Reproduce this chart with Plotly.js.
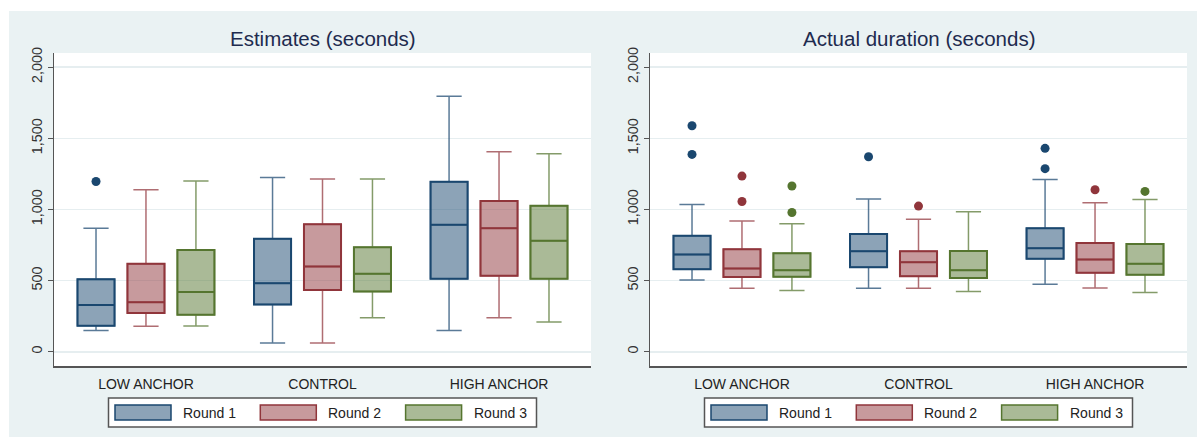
<!DOCTYPE html>
<html><head><meta charset="utf-8">
<script src="https://cdn.plot.ly/plotly-3.0.1.min.js"></script>
<style>html,body{margin:0;padding:0;background:#fff;} #chart{width:1197px;height:437px;}</style>
</head><body><div id="chart"></div>
<script>
// ---------- data ----------
const categories = ['LOW ANCHOR', 'CONTROL', 'HIGH ANCHOR'];
const rounds = ['Round 1', 'Round 2', 'Round 3'];
const panelTitles = ['Estimates (seconds)', 'Actual duration (seconds)'];
const yTickVals = [0, 500, 1000, 1500, 2000];

// Estimates (seconds): one value per category
const estR1Lo = [150, 61, 150], estR1Q1 = [183, 333, 514], estR1Med = [329, 481, 892], estR1Q3 = [510, 795, 1195], estR1Hi = [869, 1225, 1796];
const estR2Lo = [179, 61, 240], estR2Q1 = [272, 435, 535], estR2Med = [348, 599, 869], estR2Q3 = [618, 897, 1059], estR2Hi = [1139, 1214, 1406];
const estR3Lo = [181, 240, 209], estR3Q1 = [261, 423, 514], estR3Med = [420, 549, 780], estR3Q3 = [716, 735, 1026], estR3Hi = [1200, 1214, 1392];
const estR1OutCat = [0], estR1OutVal = [1197];
const estR2OutCat = [], estR2OutVal = [];
const estR3OutCat = [], estR3OutVal = [];

// Actual duration (seconds)
const actR1Lo = [505, 446, 474], actR1Q1 = [580, 594, 653], actR1Med = [683, 707, 728], actR1Q3 = [815, 827, 869], actR1Hi = [1035, 1073, 1211];
const actR2Lo = [446, 446, 449], actR2Q1 = [526, 531, 556], actR2Med = [585, 629, 648], actR2Q3 = [721, 707, 765], actR2Hi = [920, 932, 1047];
const actR3Lo = [430, 423, 416], actR3Q1 = [528, 519, 542], actR3Med = [573, 573, 618], actR3Q3 = [693, 709, 758], actR3Hi = [899, 984, 1071];
const actR1OutCat = [0, 0, 1, 2, 2], actR1OutVal = [1589, 1387, 1371, 1430, 1287];
const actR2OutCat = [0, 0, 1, 2], actR2OutVal = [1235, 1056, 1024, 1139];
const actR3OutCat = [0, 0, 2], actR3OutVal = [1165, 979, 1127];

// ---------- styling ----------
const W = 1197, H = 437;
const FONT = 'Liberation Sans, Arial, sans-serif';
const lineColors = ['#1a476f', '#90353b', '#55752f'];
const fillColors = ['rgba(26,71,111,0.5)', 'rgba(144,53,59,0.5)', 'rgba(85,117,47,0.5)'];
const whiskColors = ['rgba(26,71,111,0.72)', 'rgba(144,53,59,0.72)', 'rgba(85,117,47,0.72)'];
const roundOffset = [-0.283, 0, 0.283];
const boxW = 0.21;

const panels = [
  { xa: 'x', ya: 'y', left: 54, right: 591,
    stats: [[estR1Lo, estR1Q1, estR1Med, estR1Q3, estR1Hi], [estR2Lo, estR2Q1, estR2Med, estR2Q3, estR2Hi], [estR3Lo, estR3Q1, estR3Med, estR3Q3, estR3Hi]],
    outs: [[estR1OutCat, estR1OutVal], [estR2OutCat, estR2OutVal], [estR3OutCat, estR3OutVal]] },
  { xa: 'x2', ya: 'y2', left: 650, right: 1187,
    stats: [[actR1Lo, actR1Q1, actR1Med, actR1Q3, actR1Hi], [actR2Lo, actR2Q1, actR2Med, actR2Q3, actR2Hi], [actR3Lo, actR3Q1, actR3Med, actR3Q3, actR3Hi]],
    outs: [[actR1OutCat, actR1OutVal], [actR2OutCat, actR2OutVal], [actR3OutCat, actR3OutVal]] }
];

const traces = [];
panels.forEach(p => {
  p.stats.forEach((s, r) => {
    const xs = categories.map((c, i) => i + roundOffset[r]);
    // whiskers (lighter)
    traces.push({ type: 'box', xaxis: p.xa, yaxis: p.ya, name: rounds[r], x: xs,
      lowerfence: s[0], q1: s[1], median: s[2], q3: s[3], upperfence: s[4],
      width: boxW, whiskerwidth: 0.68, fillcolor: 'rgba(0,0,0,0)',
      line: { color: whiskColors[r], width: 1.5 }, hoverinfo: 'skip', showlegend: false });
    // box body
    traces.push({ type: 'box', xaxis: p.xa, yaxis: p.ya, name: rounds[r], x: xs,
      lowerfence: s[1], q1: s[1], median: s[2], q3: s[3], upperfence: s[3],
      width: boxW, whiskerwidth: 0, fillcolor: fillColors[r],
      line: { color: lineColors[r], width: 2 }, showlegend: false });
  });
  p.outs.forEach((o, r) => {
    traces.push({ type: 'scatter', mode: 'markers', xaxis: p.xa, yaxis: p.ya, name: rounds[r],
      x: o[0].map(i => i + roundOffset[r]), y: o[1],
      marker: { color: lineColors[r], size: 9 }, showlegend: false });
  });
});

function xAxis(p, anchor) {
  return { domain: [p.left / W, p.right / W], range: [-0.521, 2.521], anchor: anchor,
    tickmode: 'array', tickvals: categories.map((c, i) => i), ticktext: categories,
    showgrid: false, zeroline: false, showline: true, linecolor: '#555', linewidth: 1.5,
    ticks: '', ticklabelstandoff: 5, tickfont: { family: FONT, size: 14, color: '#222' } };
}
function yAxis(anchor) {
  return { domain: [1 - 366 / H, 1 - 53 / H], range: [-100, 2100], anchor: anchor,
    tickmode: 'array', tickvals: yTickVals, tickformat: ',', tickangle: -90,
    ticks: 'outside', ticklen: 5, tickcolor: '#555', tickwidth: 1,
    showline: true, linecolor: '#555', linewidth: 1.5,
    showgrid: true, gridcolor: '#e6eef0', gridwidth: 1.5, zeroline: false,
    tickfont: { family: FONT, size: 14.4, color: '#333' } };
}

const shapes = [
  { type: 'rect', xref: 'paper', yref: 'paper', x0: 0, x1: 1, y0: 1 - 11 / H, y1: 1, fillcolor: '#fff', line: { width: 0 }, layer: 'below' },
  { type: 'rect', xref: 'paper', yref: 'paper', x0: 0, x1: 9 / W, y0: 0, y1: 1, fillcolor: '#fff', line: { width: 0 }, layer: 'below' }
];
const annotations = [];

panels.forEach((p, pi) => {
  const c = (p.left + p.right) / 2;
  annotations.push({ xref: 'paper', yref: 'paper', x: c / W, y: 1 - 38.5 / H, xanchor: 'center', yanchor: 'middle',
    text: panelTitles[pi], showarrow: false, font: { family: FONT, size: 20.5, color: '#1e2b4f' } });
  // legend frame
  shapes.push({ type: 'rect', xref: 'paper', yref: 'paper', x0: (c - 214) / W, x1: (c + 214) / W,
    y0: 1 - 427 / H, y1: 1 - 398 / H, fillcolor: '#fff', line: { color: '#555', width: 1.5 } });
  rounds.forEach((rn, r) => {
    const sx = c - 207.5 + 145.3 * r;
    shapes.push({ type: 'rect', xref: 'paper', yref: 'paper', x0: sx / W, x1: (sx + 56) / W,
      y0: 1 - 420 / H, y1: 1 - 405 / H, fillcolor: fillColors[r], line: { color: lineColors[r], width: 1.5 } });
    annotations.push({ xref: 'paper', yref: 'paper', x: (sx + 66) / W, y: 1 - 412.5 / H, xanchor: 'left', yanchor: 'middle',
      text: rn, showarrow: false, font: { family: FONT, size: 14, color: '#222' } });
  });
});

const layout = {
  width: W, height: H, autosize: false, margin: { l: 0, r: 0, t: 0, b: 0 },
  paper_bgcolor: '#eaf2f3', plot_bgcolor: '#fff', showlegend: false, boxmode: 'overlay',
  font: { family: FONT },
  xaxis: xAxis(panels[0], 'y'), yaxis: yAxis('x'),
  xaxis2: xAxis(panels[1], 'y2'), yaxis2: yAxis('x2'),
  shapes: shapes, annotations: annotations
};

Plotly.newPlot('chart', traces, layout, { staticPlot: true });
</script></body></html>
